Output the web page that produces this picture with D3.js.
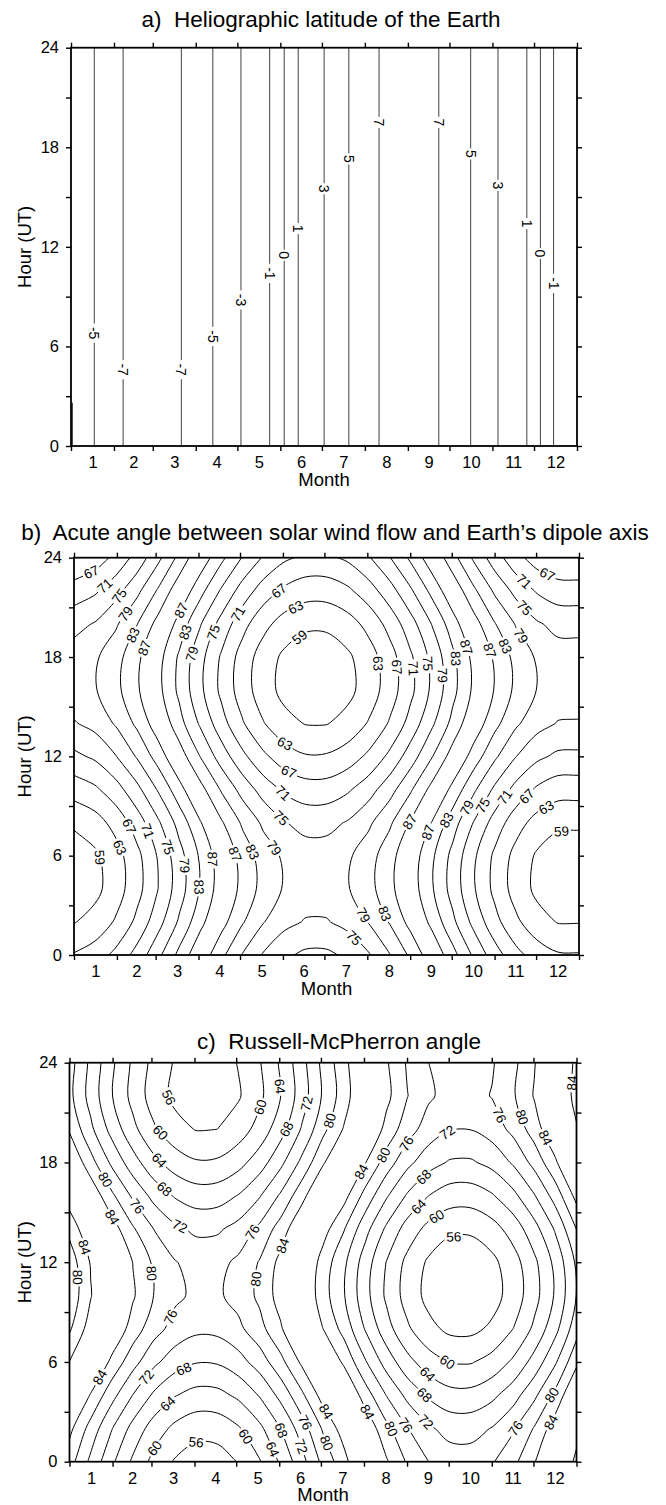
<!DOCTYPE html>
<html>
<head>
<meta charset="utf-8">
<script src="https://cdn.jsdelivr.net/npm/d3@7"></script>
<style>
  body { margin: 0; background: #fff; }
  svg text { font-family: "Liberation Sans", Arial, Helvetica, sans-serif; fill: #000; }
</style>
</head>
<body>
<svg id="chart" width="666" height="1505"></svg>
<script>
const WIDTH = 666, HEIGHT = 1505;

// x axis: day of year, ticks on month boundaries, labels mid month
const monthStarts = [0, 31, 59, 90, 120, 151, 181, 212, 243, 273, 304, 334, 365];
const monthLabels = ['1', '2', '3', '4', '5', '6', '7', '8', '9', '10', '11', '12'];
const hourTicks = [0, 3, 6, 9, 12, 15, 18, 21, 24];
const hourLabels = [0, 6, 12, 18, 24];

// a) heliographic latitude, contours are vertical lines
const latLevels = [-5, -7, -7, -5, -3, -1, 0, 1, 3, 5, 7, 7, 5, 3, 1, 0, -1];
const latDays = [16.8, 37.6, 79.6, 102.3, 122.6, 143.3, 153.8, 163.9, 182.6, 200.4, 222.2, 265.3, 288.3, 308.0, 328.8, 338.6, 348.1];
const latLabelHours = [6.8, 4.6, 4.6, 6.6, 8.8, 10.4, 11.5, 13.1, 15.5, 17.3, 19.5, 19.5, 17.6, 15.7, 13.4, 11.6, 9.8];
const latEdge = [-3, 0.8, 0, 2.6]; // level, day, hour from, hour to

const gridDays = [0, 15.2, 30.4, 45.6, 60.8, 76.0, 91.3, 106.5, 121.7, 136.9, 152.1, 167.3, 182.5,
  197.7, 212.9, 228.1, 243.3, 258.5, 273.8, 289.0, 304.2, 319.4, 334.6, 349.8, 365];
const gridHours = [0, 2, 4, 6, 8, 10, 12, 14, 16, 18, 20, 22, 24];

// b) angle between solar wind flow and dipole axis (0-180); the chart shows its acute part
const dipoleAngle = [
  [116.7,115.1,111.9,107.5,102.0,95.9,89.7,84.0,78.8,74.6,71.7,70.2,70.2,71.7,74.6,78.8,83.8,89.5,95.6,101.7,107.2,111.7,114.9,116.6,116.7],
  [121.2,119.6,116.5,112.0,106.5,100.4,94.3,88.5,83.4,79.2,76.2,74.7,74.7,76.3,79.2,83.3,88.4,94.1,100.1,106.2,111.7,116.2,119.5,121.2,121.2],
  [123.7,122.1,118.9,114.4,109.0,102.9,96.7,90.9,85.8,81.6,78.6,77.1,77.2,78.7,81.6,85.8,90.8,96.5,102.6,108.6,114.1,118.7,121.9,123.6,123.7],
  [123.3,121.7,118.6,114.1,108.6,102.5,96.4,90.6,85.4,81.2,78.3,76.8,76.8,78.3,81.3,85.4,90.5,96.2,102.2,108.3,113.8,118.3,121.5,123.2,123.3],
  [120.3,118.7,115.5,111.0,105.6,99.5,93.3,87.5,82.4,78.2,75.2,73.7,73.8,75.3,78.2,82.3,87.4,93.1,99.2,105.2,110.7,115.3,118.5,120.2,120.3],
  [115.3,113.7,110.6,106.1,100.6,94.5,88.4,82.6,77.5,73.3,70.3,68.8,68.8,70.4,73.3,77.4,82.5,88.2,94.2,100.3,105.8,110.3,113.6,115.3,115.3],
  [109.9,108.3,105.1,100.6,95.2,89.1,82.9,77.1,72.0,67.8,64.8,63.3,63.4,64.9,67.8,71.9,77.0,82.7,88.8,94.8,100.3,104.9,108.1,109.8,109.9],
  [105.3,103.7,100.5,96.1,90.6,84.5,78.4,72.6,67.4,63.2,60.3,58.8,58.8,60.3,63.3,67.4,72.5,78.2,84.2,90.3,95.8,100.3,103.5,105.2,105.3],
  [102.9,101.3,98.1,93.6,88.2,82.1,75.9,70.1,65.0,60.8,57.8,56.3,56.4,57.9,60.8,65.0,70.0,75.7,81.8,87.8,93.3,97.9,101.1,102.8,102.9],
  [103.2,101.6,98.5,94.0,88.5,82.4,76.3,70.5,65.3,61.1,58.2,56.7,56.7,58.3,61.2,65.3,70.4,76.1,82.1,88.2,93.7,98.2,101.5,103.2,103.2],
  [106.3,104.7,101.5,97.1,91.6,85.5,79.3,73.6,68.4,64.2,61.3,59.8,59.8,61.3,64.2,68.4,73.4,79.1,85.2,91.3,96.8,101.3,104.5,106.2,106.3],
  [111.2,109.6,106.4,102.0,96.5,90.4,84.3,78.5,73.3,69.1,66.2,64.7,64.7,66.2,69.2,73.3,78.4,84.1,90.1,96.2,101.7,106.2,109.4,111.1,111.2],
  [116.7,115.1,111.9,107.5,102.0,95.9,89.7,84.0,78.8,74.6,71.7,70.2,70.2,71.7,74.6,78.8,83.8,89.5,95.6,101.7,107.2,111.7,114.9,116.6,116.7]
];
const dipoleLevels = [59, 63, 67, 71, 75, 79, 83, 87];
const dipoleLabels = [
  [67,11.6,23.3],[71,21.2,22.4],[75,30.8,21.8],[79,35.7,20.7],[83,40.5,19.4],[87,48.9,18.6],
  [87,77.8,20.8],[83,80.2,19.5],[79,85.0,18.2],[75,100.7,19.5],[71,118.8,20.6],[67,150.1,21.8],
  [63,160.9,20.9],[59,162.1,19.3],[63,151.3,12.6],[67,154.9,11.0],[71,151.3,9.8],[75,148.9,8.2],
  [67,40.5,7.8],[71,53.7,7.5],[63,33.2,6.5],[59,18.8,5.9],[75,67.0,6.5],[79,80.2,5.4],[83,89.9,4.1],
  [87,100.7,5.8],[87,116.4,6.1],[83,128.4,6.2],[79,145.3,6.5],
  [67,341.6,22.9],[71,323.6,22.4],[75,324.8,20.9],[79,323.6,19.3],[83,310.3,18.6],[87,300.7,18.4],
  [87,283.8,18.6],[83,275.4,17.9],[79,266.9,16.9],[75,254.9,17.6],[71,244.1,17.3],[67,233.2,17.4],
  [63,218.8,17.6],[87,241.6,8.1],[87,256.1,7.4],[83,270.5,8.1],[79,286.2,8.8],[75,298.3,8.9],
  [71,313.9,9.4],[67,330.8,9.3],[63,342.8,8.7],[59,352.5,7.2],[79,206.7,2.3],[83,221.2,2.4],[75,201.9,1.0]
];

// c) Russell-McPherron angle (0-180); the chart shows its acute part
const rmAngle = [
  [81.7,75.1,68.8,63.3,58.7,55.6,54.0,54.2,56.2,59.7,64.6,70.6,77.1,82.6,89.4,95.5,100.5,104.0,106.0,106.1,104.4,101.1,96.3,90.3,82.7],
  [85.1,78.5,72.2,66.7,62.1,59.0,57.4,57.6,59.6,63.1,68.0,74.0,80.5,86.0,92.8,98.9,103.9,107.4,109.4,109.5,107.8,104.5,99.7,93.7,86.1],
  [90.3,83.7,77.4,71.9,67.3,64.2,62.6,62.8,64.8,68.3,73.2,79.2,85.7,91.2,98.0,104.1,109.1,112.6,114.6,114.7,113.0,109.7,104.9,98.9,91.3],
  [95.9,89.3,83.0,77.5,72.9,69.8,68.2,68.4,70.4,73.9,78.8,84.8,91.3,96.8,103.6,109.7,114.7,118.2,120.2,120.3,118.6,115.3,110.5,104.5,96.9],
  [100.6,94.0,87.7,82.2,77.6,74.5,72.9,73.1,75.1,78.6,83.5,89.5,96.0,101.5,108.3,114.4,119.4,122.9,124.9,125.0,123.3,120.0,115.2,109.2,101.6],
  [102.9,96.3,90.0,84.5,79.9,76.8,75.2,75.4,77.4,80.9,85.8,91.8,98.3,103.8,110.6,116.7,121.7,125.2,127.2,127.3,125.6,122.3,117.5,111.5,103.9],
  [102.3,95.7,89.4,83.9,79.3,76.2,74.6,74.8,76.8,80.3,85.2,91.2,97.7,103.2,110.0,116.1,121.1,124.6,126.6,126.7,125.0,121.7,116.9,110.9,103.3],
  [98.9,92.3,86.0,80.5,75.9,72.8,71.2,71.4,73.4,76.9,81.8,87.8,94.3,99.8,106.6,112.7,117.7,121.2,123.2,123.3,121.6,118.3,113.5,107.5,99.9],
  [93.7,87.1,80.8,75.3,70.7,67.6,66.0,66.2,68.2,71.7,76.6,82.6,89.1,94.6,101.4,107.5,112.5,116.0,118.0,118.1,116.4,113.1,108.3,102.3,94.7],
  [88.1,81.5,75.2,69.7,65.1,62.0,60.4,60.6,62.6,66.1,71.0,77.0,83.5,89.0,95.8,101.9,106.9,110.4,112.4,112.5,110.8,107.5,102.7,96.7,89.1],
  [83.5,76.9,70.6,65.1,60.5,57.4,55.8,56.0,58.0,61.5,66.4,72.4,78.9,84.4,91.2,97.3,102.3,105.8,107.8,107.9,106.2,102.9,98.1,92.1,84.5],
  [81.1,74.5,68.2,62.7,58.1,55.0,53.4,53.6,55.6,59.1,64.0,70.0,76.5,82.0,88.8,94.9,99.9,103.4,105.4,105.5,103.8,100.5,95.7,89.7,82.1],
  [81.7,75.1,68.8,63.3,58.7,55.6,54.0,54.2,56.2,59.7,64.6,70.6,77.1,82.6,89.4,95.5,100.5,104.0,106.0,106.1,104.4,101.1,96.3,90.3,82.7]
];
const rmLevels = [56, 60, 64, 68, 72, 76, 80, 84];
const rmLabels = [
  [56,68.8,21.8],[60,142.2,21.2],[64,155.9,22.6],[72,172.8,21.5],[80,188.1,20.5],[68,159.9,19.9],
  [60,64.2,19.7],[64,64.2,18.1],[68,67.3,16.3],[72,78.0,13.9],[80,24.5,16.9],[76,47.4,15.3],
  [84,30.6,14.7],[84,10.7,12.9],[80,6.2,11.1],[80,55.1,11.3],[76,70.3,8.8],[76,130.0,13.9],
  [84,149.8,13.1],[80,133.0,11.0],[84,21.5,5.1],[72,52.0,5.3],[68,81.1,5.8],[64,67.3,3.8],
  [60,58.1,1.0],[56,88.7,1.5],[60,128.4,1.6],[64,147.7,0.8],[68,152.9,1.9],[72,166.0,0.9],
  [76,168.2,2.3],[80,184.4,1.1],[84,184.4,3.0],[84,206.4,17.6],[80,224.8,18.5],[76,243.1,19.1],
  [72,272.1,19.8],[68,255.3,17.1],[64,250.7,15.4],[60,264.5,14.7],[56,276.7,13.3],[60,272.1,6.0],
  [64,256.9,5.2],[68,255.3,4.0],[72,255.3,2.3],[76,240.0,2.1],[80,229.3,1.9],[84,212.5,2.9],
  [76,305.8,20.7],[80,321.0,20.6],[84,337.9,19.3],[84,356.2,22.8],[80,345.5,4.1],[84,344.0,2.5],[76,319.5,2.1]
];

const PANELS = [
  {id: 'a', title: 'a)  Heliographic latitude of the Earth', titleX: 321, titleY: 27,
   left: 71, right: 577, top: 47.7, bottom: 446},
  {id: 'b', title: 'b)  Acute angle between solar wind flow and Earth\u2019s dipole axis', titleX: 335, titleY: 539.5,
   left: 74, right: 579, top: 557.7, bottom: 955, grid: dipoleAngle, levels: dipoleLevels, labels: dipoleLabels},
  {id: 'c', title: 'c)  Russell-McPherron angle', titleX: 339, titleY: 1048.5,
   left: 69.5, right: 576.5, top: 1062.7, bottom: 1461.7, grid: rmAngle, levels: rmLevels, labels: rmLabels}
];

const TICK_FONT = 16.5, TITLE_FONT = 22.5, AXIS_FONT = 18.5;

const svg = d3.select('#chart').attr('width', WIDTH).attr('height', HEIGHT);

function tidy(g) {
  g.select('.domain').remove();
  g.selectAll('.tick line').attr('stroke', '#000').attr('stroke-width', 1.4);
  g.attr('font-size', TICK_FONT).attr('font-family', null);
}

// cut a closed contour ring into the parts that lie inside the grid
function splitRing(ring, n, m) {
  let pts = ring.slice();
  const f = pts[0], l = pts[pts.length - 1];
  if (pts.length > 1 && f[0] === l[0] && f[1] === l[1]) pts.pop();
  const inside = p => p[0] > 0 && p[0] < n && p[1] > 0 && p[1] < m;
  if (pts.every(inside)) return [{closed: true, pts}];
  const k = pts.findIndex(p => !inside(p));
  const rot = pts.slice(k).concat(pts.slice(0, k));
  const runs = [];
  let cur = [];
  rot.forEach(p => {
    if (inside(p)) cur.push(p);
    else { if (cur.length > 1) runs.push(cur); cur = []; }
  });
  if (cur.length > 1) runs.push(cur);
  return runs.map(r => ({closed: false, pts: r}));
}

function nearest(lines, level, px, py) {
  let best = null;
  lines.filter(l => l.level === level || l.level === 180 - level).forEach(l => {
    const pts = l.closed ? l.pts.concat([l.pts[0]]) : l.pts;
    for (let i = 0; i < pts.length - 1; i++) {
      const [ax, ay] = pts[i], [bx, by] = pts[i + 1];
      const dx = bx - ax, dy = by - ay, len2 = dx * dx + dy * dy || 1;
      let t = ((px - ax) * dx + (py - ay) * dy) / len2;
      t = Math.max(0, Math.min(1, t));
      const qx = ax + t * dx, qy = ay + t * dy;
      const d2 = (qx - px) ** 2 + (qy - py) ** 2;
      if (!best || d2 < best.d2) best = {d2, x: qx, y: qy, ang: Math.atan2(dy, dx) * 180 / Math.PI};
    }
  });
  return best;
}

function putLabel(g, text, px, py, ang, size) {
  if (ang > 90) ang -= 180;
  if (ang < -90) ang += 180;
  const w = text.length * 0.58 * size + 3;
  const lg = g.append('g').attr('transform', `translate(${px},${py}) rotate(${ang})`);
  lg.append('rect').attr('x', -w / 2).attr('y', -size * 0.45).attr('width', w)
    .attr('height', size * 0.9).attr('fill', '#fff');
  lg.append('text').attr('text-anchor', 'middle').attr('dy', '0.36em')
    .attr('font-size', size).text(text);
}

PANELS.forEach(p => {
  const g = svg.append('g').attr('class', 'panel-' + p.id);
  const x = d3.scaleLinear().domain([0, 365]).range([p.left, p.right]);
  const y = d3.scaleLinear().domain([0, 24]).range([p.bottom, p.top]);

  const clipId = 'clip-' + p.id;
  g.append('clipPath').attr('id', clipId).append('rect')
    .attr('x', p.left).attr('y', p.top).attr('width', p.right - p.left).attr('height', p.bottom - p.top);
  const plot = g.append('g').attr('clip-path', `url(#${clipId})`);

  if (p.id === 'a') {
    plot.selectAll('line.iso').data(latDays).join('line').attr('class', 'iso')
      .attr('x1', d => x(d)).attr('x2', d => x(d)).attr('y1', y(0)).attr('y2', y(24))
      .attr('stroke', '#000').attr('stroke-width', 0.75);
    plot.append('line').attr('x1', x(latEdge[1])).attr('x2', x(latEdge[1]))
      .attr('y1', y(latEdge[2])).attr('y2', y(latEdge[3])).attr('stroke', '#000').attr('stroke-width', 1.2);
    // lines lean very slightly up-left, so labels read top to bottom
    latLevels.forEach((lv, i) => putLabel(plot, String(lv), x(latDays[i]), y(latLabelHours[i]), 90, 14));
  } else {
    const grid = p.grid, n = grid[0].length, m = grid.length;
    const gx = d3.scaleLinear().domain([0.5, n - 0.5]).range([gridDays[0], gridDays[n - 1]]);
    const gy = d3.scaleLinear().domain([0.5, m - 0.5]).range([gridHours[0], gridHours[m - 1]]);
    const toPx = q => [x(gx(q[0])), y(gy(q[1]))];
    // each acute level L appears twice in the full angle: L and 180 - L
    const thresholds = p.levels.concat(p.levels.map(v => 180 - v)).sort((a, b) => a - b);
    const lines = [];
    d3.contours().size([n, m]).thresholds(thresholds)(grid.flat()).forEach(c => {
      c.coordinates.forEach(poly => poly.forEach(ring => {
        splitRing(ring, n, m).forEach(run => {
          const pts = run.pts.map(toPx);
          let draw = pts;
          if (!run.closed) {
            const a0 = pts[0], a1 = pts[1], b0 = pts[pts.length - 1], b1 = pts[pts.length - 2];
            draw = [[2 * a0[0] - a1[0], 2 * a0[1] - a1[1]]].concat(pts, [[2 * b0[0] - b1[0], 2 * b0[1] - b1[1]]]);
          }
          lines.push({level: c.value, closed: run.closed, pts, draw});
        });
      }));
    });
    const openLine = d3.line().curve(d3.curveCatmullRom.alpha(0.5));
    const closedLine = d3.line().curve(d3.curveCatmullRomClosed.alpha(0.5));
    plot.selectAll('path.iso').data(lines).join('path').attr('class', 'iso')
      .attr('d', l => (l.closed ? closedLine : openLine)(l.draw))
      .attr('fill', 'none').attr('stroke', '#000').attr('stroke-width', 1);
    p.labels.forEach(([lv, day, hour]) => {
      const s = nearest(lines, lv, x(day), y(hour));
      if (s) putLabel(plot, String(lv), s.x, s.y, s.ang, 13.5);
    });
  }

  // ticks on all four sides
  g.append('g').attr('transform', `translate(0,${p.bottom})`)
    .call(d3.axisBottom(x).tickValues(monthStarts).tickSize(5).tickFormat('')).call(tidy);
  g.append('g').attr('transform', `translate(0,${p.top})`)
    .call(d3.axisTop(x).tickValues(monthStarts).tickSize(5).tickFormat('')).call(tidy);
  g.append('g').attr('transform', `translate(${p.left},0)`)
    .call(d3.axisLeft(y).tickValues(hourTicks).tickSize(5).tickPadding(7)
      .tickFormat(h => hourLabels.includes(h) ? h : '')).call(tidy);
  g.append('g').attr('transform', `translate(${p.right},0)`)
    .call(d3.axisRight(y).tickValues(hourTicks).tickSize(5).tickFormat('')).call(tidy);
  const mids = monthLabels.map((_, i) => (monthStarts[i] + monthStarts[i + 1]) / 2);
  g.append('g').attr('transform', `translate(0,${p.bottom})`)
    .call(d3.axisBottom(x).tickValues(mids).tickSize(0).tickPadding(10.5)
      .tickFormat((d, i) => monthLabels[i])).call(tidy);

  g.append('rect').attr('x', p.left).attr('y', p.top).attr('width', p.right - p.left)
    .attr('height', p.bottom - p.top).attr('fill', 'none').attr('stroke', '#000').attr('stroke-width', 1.8);

  g.append('text').attr('x', p.titleX).attr('y', p.titleY).attr('text-anchor', 'middle')
    .style('white-space', 'pre').attr('font-size', TITLE_FONT).text(p.title);
  g.append('text').attr('x', (p.left + p.right) / 2).attr('y', p.bottom + 39.5).attr('text-anchor', 'middle')
    .attr('font-size', AXIS_FONT).text('Month');
  g.append('text').attr('transform', `translate(30.5,${(p.top + p.bottom) / 2}) rotate(-90)`)
    .attr('text-anchor', 'middle').attr('font-size', AXIS_FONT).text('Hour (UT)');
});
</script>
</body>
</html>
